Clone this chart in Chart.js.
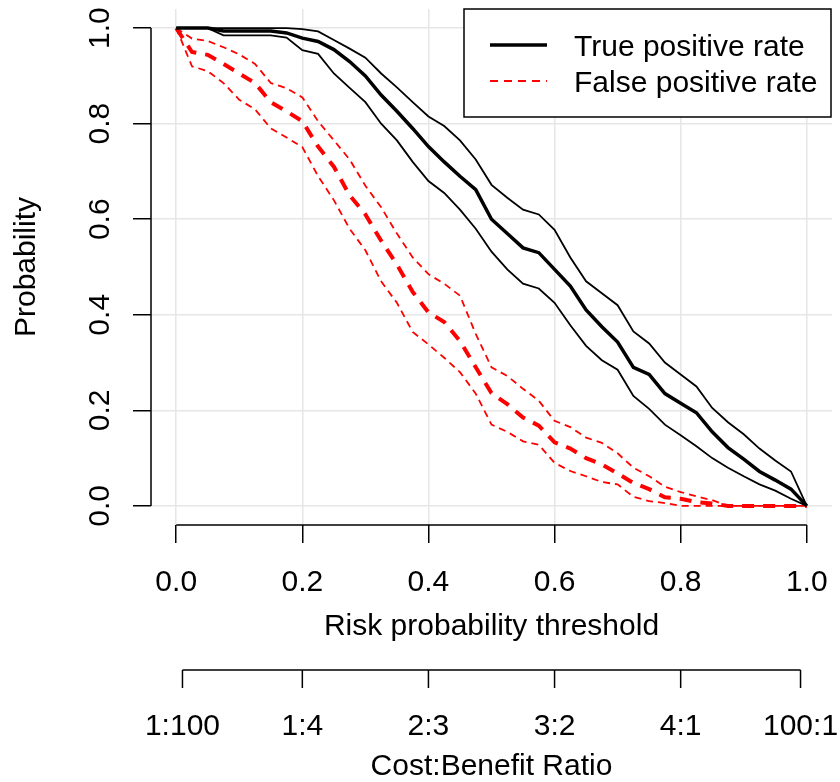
<!DOCTYPE html>
<html><head><meta charset="utf-8">
<script src="https://cdn.jsdelivr.net/npm/chart.js@4"></script>
<style>html,body{margin:0;padding:0;background:#fff;overflow:hidden}</style>
</head><body>
<canvas id="c" width="840" height="782"></canvas>
<script>
// ---- data ----
const thresholds = [0,0.025,0.05,0.075,0.1,0.125,0.15,0.175,0.2,0.225,0.25,0.275,0.3,0.325,0.35,0.375,0.4,0.425,0.45,0.475,0.5,0.525,0.55,0.575,0.6,0.625,0.65,0.675,0.7,0.725,0.75,0.775,0.8,0.825,0.85,0.875,0.9,0.925,0.95,0.975,1];
const tprMid = [1,1,1,0.994,0.994,0.994,0.994,0.99,0.979,0.972,0.955,0.93,0.9,0.86,0.826,0.79,0.752,0.72,0.69,0.662,0.60,0.57,0.54,0.53,0.495,0.46,0.41,0.375,0.343,0.29,0.275,0.235,0.215,0.195,0.155,0.122,0.098,0.072,0.054,0.035,0];
const tprUpper = [1,1,1,1,1,1,1,1,0.998,0.993,0.975,0.957,0.938,0.905,0.876,0.845,0.815,0.795,0.765,0.725,0.672,0.645,0.62,0.61,0.578,0.52,0.47,0.445,0.42,0.365,0.34,0.30,0.275,0.25,0.205,0.175,0.15,0.12,0.095,0.072,0];
const tprLower = [1,1,1,0.985,0.985,0.985,0.985,0.98,0.954,0.946,0.905,0.875,0.845,0.80,0.765,0.72,0.68,0.655,0.62,0.58,0.532,0.495,0.465,0.455,0.425,0.378,0.335,0.305,0.285,0.23,0.203,0.17,0.148,0.125,0.10,0.08,0.062,0.045,0.032,0.015,0];
const fprMid = [1,0.95,0.944,0.925,0.905,0.885,0.845,0.826,0.805,0.752,0.71,0.65,0.61,0.555,0.505,0.448,0.405,0.385,0.345,0.29,0.236,0.213,0.185,0.168,0.133,0.12,0.10,0.087,0.068,0.048,0.035,0.018,0.015,0.008,0.005,0,0,0,0,0,0];
const fprUpper = [1,0.978,0.973,0.96,0.945,0.925,0.885,0.874,0.855,0.805,0.765,0.725,0.67,0.625,0.57,0.52,0.485,0.465,0.44,0.36,0.29,0.272,0.245,0.22,0.178,0.165,0.143,0.132,0.11,0.08,0.062,0.04,0.029,0.02,0.012,0,0,0,0,0,0];
const fprLower = [1,0.92,0.91,0.885,0.85,0.83,0.79,0.771,0.751,0.69,0.64,0.58,0.535,0.47,0.425,0.364,0.338,0.31,0.28,0.235,0.17,0.155,0.135,0.128,0.09,0.073,0.062,0.05,0.045,0.019,0.01,0.006,0,0,0,0,0,0,0,0,0];
const xTicks = [0,0.2,0.4,0.6,0.8,1];
const yTicks = [0,0.2,0.4,0.6,0.8,1];
const cbLabels = ['1:100','1:4','2:3','3:2','4:1','100:1'];
const cbPositions = [1/101,0.2,0.4,0.6,0.8,100/101];
const legendLabels = ['True positive rate','False positive rate'];
const xTitle = 'Risk probability threshold';
const yTitle = 'Probability';
const cbTitle = 'Cost:Benefit Ratio';

// ---- chart ----
const FONT = '"Liberation Sans", Arial, Helvetica, sans-serif';
const pts = ys => thresholds.map((x, i) => ({x: x, y: ys[i]}));
const RED = '#ff0000';

const rAxes = {
  id: 'rAxes',
  afterDraw(chart) {
    const ctx = chart.ctx, xs = chart.scales.x, ys = chart.scales.y, ca = chart.chartArea;
    ctx.save();
    ctx.strokeStyle = '#000'; ctx.lineWidth = 1.5; ctx.lineCap = 'butt';
    // axis lines (R style, spanning only first to last tick)
    ctx.beginPath();
    ctx.moveTo(xs.getPixelForValue(xTicks[0]), ca.bottom);
    ctx.lineTo(xs.getPixelForValue(xTicks[xTicks.length-1]), ca.bottom);
    ctx.moveTo(ca.left, ys.getPixelForValue(yTicks[0]));
    ctx.lineTo(ca.left, ys.getPixelForValue(yTicks[yTicks.length-1]));
    ctx.stroke();
    ctx.fillStyle = '#000';
    ctx.font = '30px ' + FONT;
    // x tick labels
    ctx.textAlign = 'center'; ctx.textBaseline = 'alphabetic';
    xTicks.forEach(v => ctx.fillText(v.toFixed(1), xs.getPixelForValue(v), 591));
    // x title
    ctx.fillText(xTitle, xs.getPixelForValue(0.5), 635);
    // y tick labels (rotated)
    yTicks.forEach(v => {
      ctx.save();
      ctx.translate(109, ys.getPixelForValue(v));
      ctx.rotate(-Math.PI/2);
      ctx.fillText(v.toFixed(1), 0, 0);
      ctx.restore();
    });
    // y title
    ctx.save();
    ctx.translate(35, (ca.top + ca.bottom)/2);
    ctx.rotate(-Math.PI/2);
    ctx.fillText(yTitle, 0, 0);
    ctx.restore();
    // second axis: cost-benefit ratio
    const cbY = 670;
    ctx.beginPath();
    ctx.moveTo(xs.getPixelForValue(cbPositions[0]), cbY);
    ctx.lineTo(xs.getPixelForValue(cbPositions[cbPositions.length-1]), cbY);
    cbPositions.forEach(p => {
      const px = xs.getPixelForValue(p);
      ctx.moveTo(px, cbY); ctx.lineTo(px, cbY + 18);
    });
    ctx.stroke();
    cbPositions.forEach((p, i) => ctx.fillText(cbLabels[i], xs.getPixelForValue(p), 735));
    ctx.fillText(cbTitle, xs.getPixelForValue(0.5), 775);
    // legend
    const lx = 464, ly = 9, lw = 367, lh = 108;
    ctx.fillStyle = '#fff'; ctx.fillRect(lx, ly, lw, lh);
    ctx.strokeStyle = '#000'; ctx.lineWidth = 1.5; ctx.strokeRect(lx, ly, lw, lh);
    ctx.beginPath(); ctx.lineWidth = 3.5; ctx.strokeStyle = '#000';
    ctx.moveTo(490, 45); ctx.lineTo(547, 45); ctx.stroke();
    ctx.beginPath(); ctx.lineWidth = 2; ctx.strokeStyle = RED; ctx.setLineDash([8, 6]);
    ctx.moveTo(490, 81); ctx.lineTo(547, 81); ctx.stroke();
    ctx.setLineDash([]);
    ctx.fillStyle = '#000'; ctx.textAlign = 'left';
    ctx.fillText(legendLabels[0], 574, 56);
    ctx.fillText(legendLabels[1], 574, 92);
    ctx.restore();
  }
};

const gridOpts = {color: '#e6e6e6', lineWidth: 1.5, tickColor: '#000', tickWidth: 1.5, tickLength: 18, drawTicks: true};

new Chart(document.getElementById('c'), {
  type: 'line',
  data: {
    datasets: [
      {label: 'TPR upper', data: pts(tprUpper), borderColor: '#000', borderWidth: 1.8},
      {label: 'TPR lower', data: pts(tprLower), borderColor: '#000', borderWidth: 1.8},
      {label: legendLabels[0], data: pts(tprMid), borderColor: '#000', borderWidth: 3.5},
      {label: 'FPR upper', data: pts(fprUpper), borderColor: RED, borderWidth: 1.8, borderDash: [7, 5]},
      {label: 'FPR lower', data: pts(fprLower), borderColor: RED, borderWidth: 1.8, borderDash: [7, 5]},
      {label: legendLabels[1], data: pts(fprMid), borderColor: RED, borderWidth: 4, borderDash: [12, 9]}
    ]
  },
  options: {
    responsive: false,
    animation: false,
    devicePixelRatio: 1,
    layout: {padding: {left: 0, right: 8, top: 9, bottom: 0}},
    elements: {point: {radius: 0}, line: {tension: 0, fill: false}},
    plugins: {legend: {display: false}, tooltip: {enabled: false}},
    scales: {
      x: {
        type: 'linear', min: -0.04, max: 1.04,
        afterBuildTicks: s => { s.ticks = xTicks.map(v => ({value: v})); },
        afterFit: s => { s.height = 257; },
        grid: gridOpts, border: {display: false}, ticks: {display: false}
      },
      y: {
        type: 'linear', min: -0.04, max: 1.04,
        afterBuildTicks: s => { s.ticks = yTicks.map(v => ({value: v})); },
        afterFit: s => { s.width = 151; },
        grid: gridOpts, border: {display: false}, ticks: {display: false}
      }
    }
  },
  plugins: [rAxes]
});
</script>
</body></html>
